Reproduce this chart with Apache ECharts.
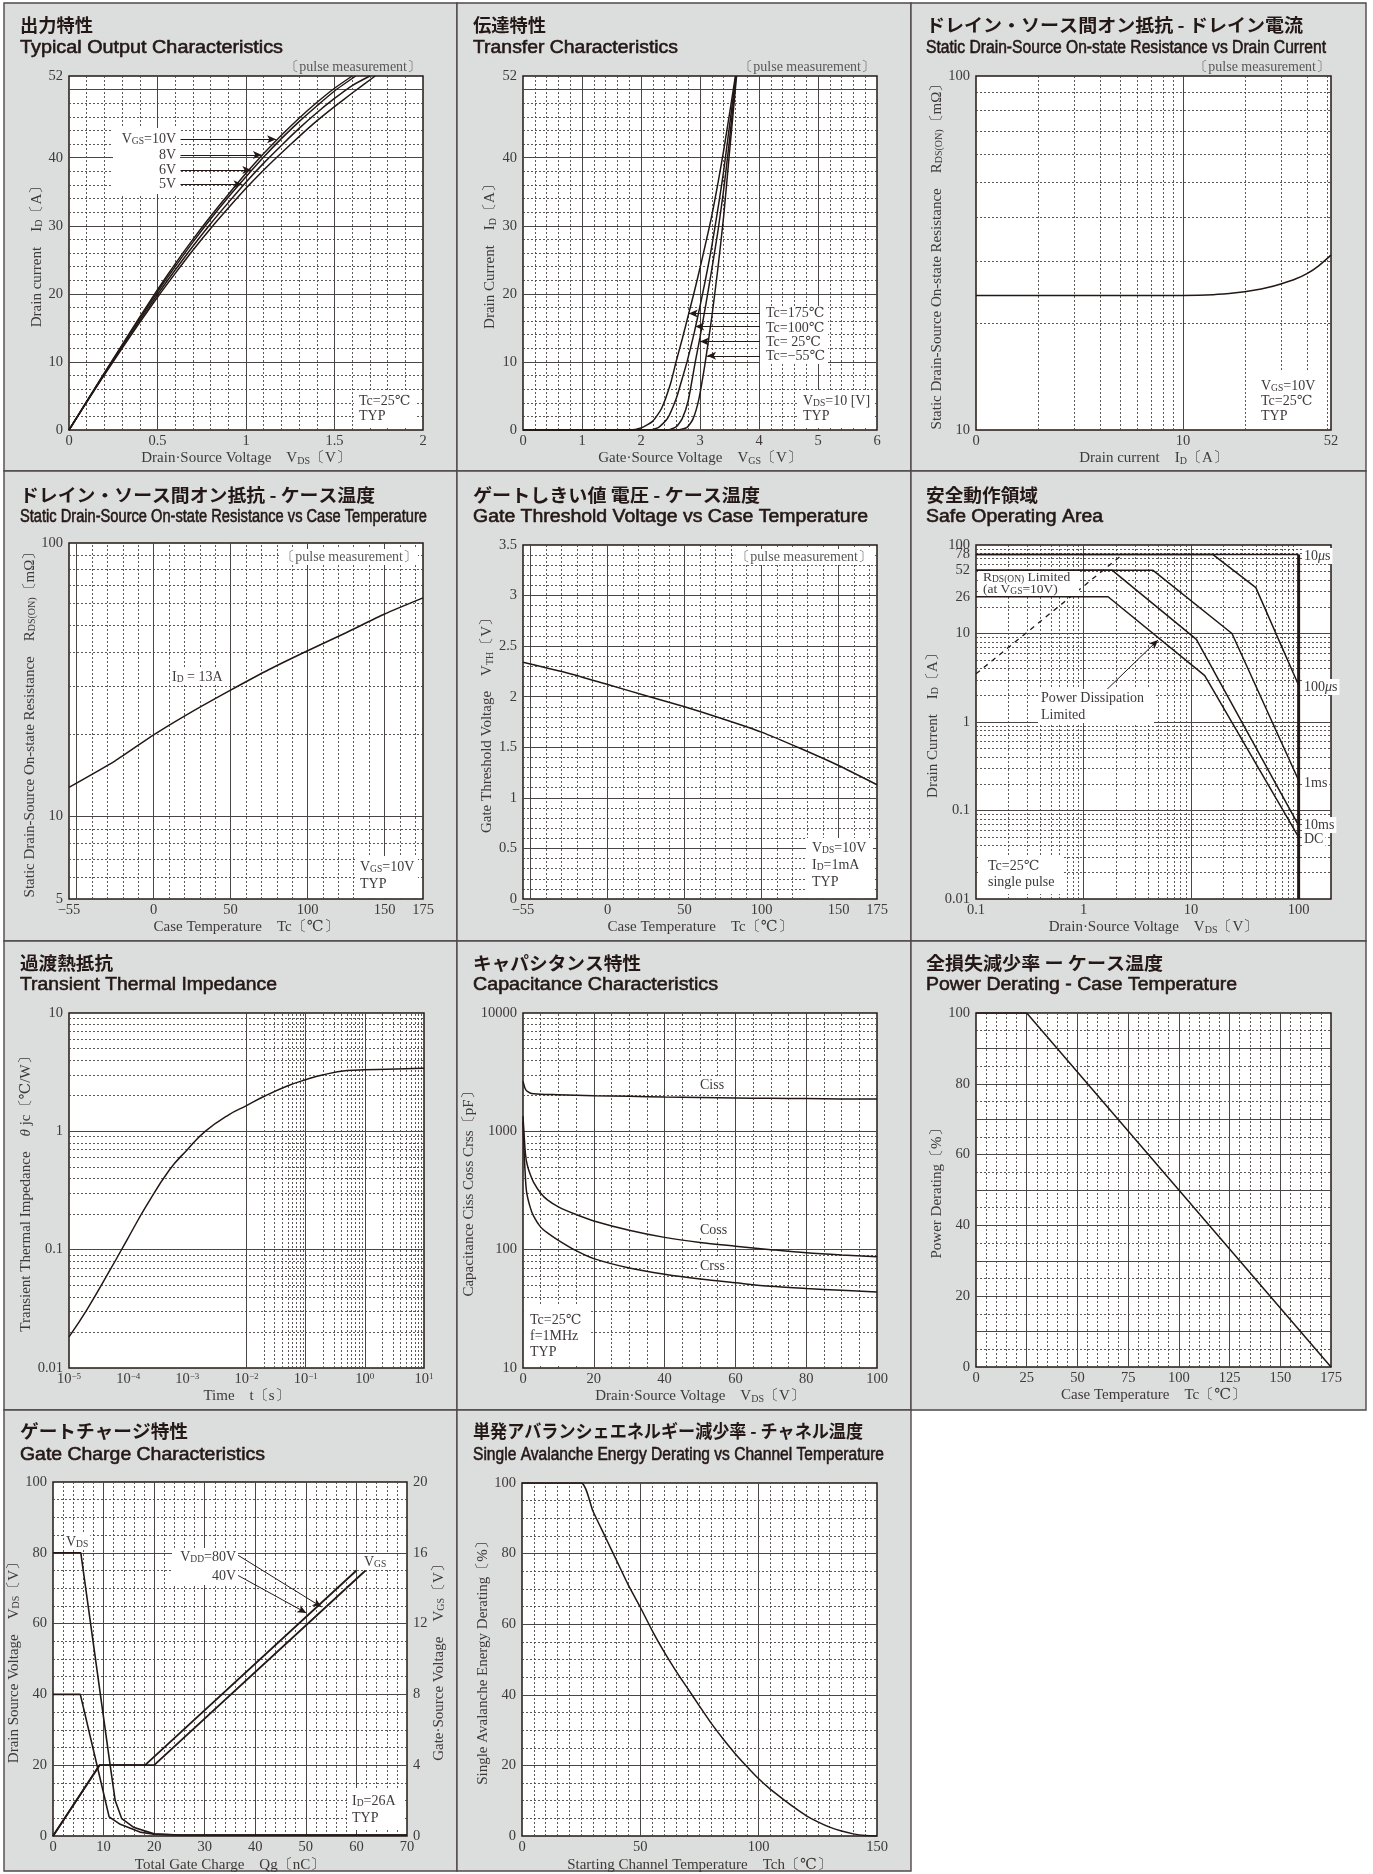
<!DOCTYPE html>
<html><head><meta charset="utf-8">
<script src="https://cdn.jsdelivr.net/npm/echarts@6/dist/echarts.min.js"></script>
<style>html,body{margin:0;padding:0;background:#fff}#c{width:1373px;height:1874px}</style>
</head><body><div id="c"></div>
<script>
// ================= DATA =================
// P1 Typical Output Characteristics  [VDS V, ID A]
const outVgs10V=[[0,0],[0.1,4.2],[0.2,8.4],[0.3,12.5],[0.4,16.6],[0.5,20.6],[0.6,24.4],[0.7,28.0],[0.8,31.4],[0.9,34.6],[1.0,37.7],[1.1,40.6],[1.2,43.3],[1.3,45.8],[1.4,48.1],[1.5,50.2],[1.6,52]];
const outVgs8V=[[0,0],[0.1,4.2],[0.2,8.3],[0.3,12.4],[0.4,16.4],[0.5,20.3],[0.6,24.0],[0.7,27.6],[0.8,31.0],[0.9,34.2],[1.0,37.2],[1.1,40.1],[1.2,42.8],[1.3,45.3],[1.4,47.6],[1.5,49.8],[1.62,52]];
const outVgs6V=[[0,0],[0.1,4.1],[0.2,8.2],[0.3,12.2],[0.4,16.1],[0.5,19.9],[0.6,23.5],[0.7,27.0],[0.8,30.3],[0.9,33.4],[1.0,36.4],[1.1,39.2],[1.2,41.8],[1.3,44.3],[1.4,46.6],[1.5,48.7],[1.6,50.6],[1.7,52]];
const outVgs5V=[[0,0],[0.1,4.1],[0.2,8.1],[0.3,12.0],[0.4,15.8],[0.5,19.5],[0.6,23.0],[0.7,26.4],[0.8,29.6],[0.9,32.6],[1.0,35.5],[1.1,38.2],[1.2,40.7],[1.3,43.1],[1.4,45.4],[1.5,47.5],[1.6,49.5],[1.73,52]];
const outArrowY=[42.7,40.4,38.2,36.1];
const outArrowTipX=[1.17,1.09,1.03,0.98];
const outArrowTailX=0.63;
// P2 Transfer Characteristics [VGS V, ID A]
const trTc175=[[0,0],[1.8,0],[2.0,0.3],[2.2,1.3],[2.35,3.2],[2.5,6.8],[2.6,10.2],[2.7,13.4],[2.8,16.8],[2.9,20.2],[3.0,23.8],[3.2,31.5],[3.4,41],[3.6,52]];
const trTc100=[[0,0],[2.15,0],[2.3,0.4],[2.45,1.7],[2.6,4.7],[2.7,7.6],[2.78,10],[2.9,14.2],[3.0,18.2],[3.1,22.4],[3.2,27],[3.4,38],[3.6,51.5],[3.61,52]];
const trTc25=[[0,0],[2.45,0],[2.6,0.5],[2.7,1.7],[2.8,4.3],[2.92,10],[3.0,13.6],[3.1,18.5],[3.2,23.6],[3.3,29],[3.4,35.2],[3.5,42.6],[3.61,52]];
const trTcM55=[[0,0],[2.62,0],[2.78,0.4],[2.88,1.6],[2.98,4.5],[3.09,10],[3.2,16.6],[3.3,23.5],[3.4,31.3],[3.5,40.8],[3.62,52]];
const trArrowY=[17.1,15.2,13.0,10.9];
const trArrowTipX=[2.81,2.92,3.0,3.12];
const trArrowTailX=4.06;
// P3 RDS(ON) vs ID [A, mOhm]
const rdsVsId=[[1,24],[3,24],[10,24],[14,24.1],[18,24.4],[22,24.8],[26,25.3],[30,25.9],[35,26.7],[40,27.7],[45,29],[52,31.2]];
// P4 RDS(ON) vs Tc [degC, mOhm]
const rdsVsTc=[[-55,12.8],[-25,16.0],[0,19.9],[25,24.2],[50,29.0],[75,34.5],[100,40.4],[125,47.0],[150,55.0],[175,63.0]];
// P5 Vth vs Tc [degC, V]
const vthVsTc=[[-55,2.34],[-25,2.23],[0,2.12],[25,2.01],[50,1.90],[75,1.78],[100,1.65],[125,1.49],[150,1.32],[175,1.13]];
// P6 Safe Operating Area [VDS V, ID A]
const soa10us=[[0.1,78],[100,78]];
const soa100us=[[0.1,78],[16,78],[40,33],[100,2.6]];
const soa1ms=[[0.1,52],[4.4,52],[24,10],[100,0.22]];
const soa10ms=[[0.1,52],[1.84,52],[11.2,8.6],[100,0.068]];
const soaDC=[[0.1,26],[1.69,26],[13.4,3.34],[100,0.05]];
const soaVdss=[[100,0.01],[100,78]];
const soaRdsLimit=[[0.1,3.5],[2.3,78]];
const soaCurrentTicks=[78,52,26];
const soaPdArrow=[[1.57,2.2],[4.93,8.45]];
// P7 Transient thermal impedance [s, degC/W]
const thermalZ=[[1e-5,0.0183],[2e-5,0.031],[5e-5,0.068],[1e-4,0.126],[2e-4,0.232],[5e-4,0.474],[1e-3,0.70],[2e-3,1.0],[5e-3,1.38],[1e-2,1.65],[2e-2,1.98],[5e-2,2.43],[1e-1,2.73],[2e-1,3.01],[5e-1,3.26],[1,3.31],[10,3.41]];
// P8 Capacitance [VDS V, pF]
const capCiss=[[0,2650],[0.3,2450],[0.6,2300],[1,2200],[2,2110],[3,2080],[5,2060],[10,2040],[20,2000],[30,1975],[40,1950],[50,1930],[60,1915],[70,1900],[80,1890],[90,1880],[100,1875]];
const capCoss=[[0,1340],[0.3,950],[0.7,640],[1.2,520],[2,435],[3,370],[5,300],[7,262],[10,230],[15,198],[20,175],[30,146],[40,127],[50,115],[60,107],[70,100],[80,94],[90,90],[100,87]];
const capCrss=[[0,1200],[0.3,700],[0.6,450],[1,310],[2,230],[3,192],[5,155],[7,138],[10,120],[15,98],[20,84],[30,70],[40,62],[50,56.5],[60,52.5],[70,49],[80,47],[90,45.3],[100,43.8]];
// P9 Power derating [degC, %]
const powerDerating=[[0,100],[25,100],[175,0]];
// P10 Gate charge [nC, VDS V / VGS V]
const qgVds80=[[0,80],[5.5,80],[11.3,20],[12.3,10],[13.6,4.9],[15.9,2.5],[20,0.6],[25,0.3],[70,0.3]];
const qgVds40=[[0,40],[5.4,40],[8.7,20],[11.1,5.4],[13.3,3.3],[17.2,1.1],[20,0.5],[25,0.3],[70,0.3]];
const qgVgs80=[[0,0],[9.2,4],[20,4],[61.8,15]];
const qgVgs40=[[0,0],[9.2,4],[18.2,4],[60,15]];
const qgArrow80=[[36.6,79.3],[53.1,64.7]];
const qgArrow40=[[36.6,73.6],[50.1,63.0]];
// P11 Single avalanche energy derating [degC, %]
const avalanche=[[0,100],[25,100],[30,92],[35,85],[40,78],[45,71],[50,64.8],[55,58.2],[60,52.2],[65,46.8],[70,41.8],[75,36.8],[80,31.9],[85,27.5],[90,23.4],[95,19.7],[100,16.2],[105,13.2],[110,10.6],[115,8.1],[120,5.8],[125,4],[130,2.5],[135,1.4],[140,0.6],[145,0.15],[150,0]];

// ================= STYLE / LAYOUT =================
const SERIF='"Liberation Serif","DejaVu Serif",serif';
const SANS='"Liberation Sans",Arial,sans-serif';
const CJK='"Noto Sans CJK JP","Noto Sans CJK SC",sans-serif';
const INK='#231815', TXT='#3e3a39', GL='#4a4645', BG='#dcdddd';
const SUB={fontFamily:SERIF,fontSize:9.5,color:TXT,fill:TXT,verticalAlign:'bottom'};
const SUP={fontFamily:SERIF,fontSize:9,color:TXT,fill:TXT,verticalAlign:'top'};
const IT={fontFamily:SERIF,fontSize:14,color:TXT,fill:TXT,fontStyle:'italic'};
const RICH={s:SUB,u:SUP,i:IT};

const P=[
 {l:69,t:76,w:354,h:354},{l:523,t:76,w:354,h:354},{l:976,t:76,w:355,h:354},
 {l:69,t:543,w:354,h:356},{l:523,t:545,w:354,h:354},{l:976,t:545,w:355,h:354},
 {l:69,t:1013,w:355,h:355},{l:523,t:1013,w:354,h:355},{l:976,t:1013,w:355,h:354},
 {l:53,t:1482,w:354,h:354},{l:522,t:1483,w:355,h:353}
];

const seq=(a,b,s)=>{const r=[];for(let k=0;a+k*s<=b+1e-9;k++)r.push(+(a+k*s).toFixed(6));return r;};
const without=(arr,ex)=>arr.filter(v=>!ex.some(e=>Math.abs(e-v)<1e-6));
const logMinor=(d0,d1)=>{const r=[];for(let e=d0;e<=d1;e++)for(let k=2;k<=9;k++)r.push(+(k*Math.pow(10,e)).toPrecision(6));return r;};
const fmtNum=v=>{const r=+(+v).toPrecision(6);return r<0?'−'+(-r):String(r);};

const nameStyle={fontFamily:SERIF,fontSize:15,color:TXT,rich:{s:{fontFamily:SERIF,fontSize:10,color:TXT,verticalAlign:'bottom'},i:{fontFamily:SERIF,fontSize:15,color:TXT,fontStyle:'italic'}}};
const labelBase={color:TXT,fontFamily:SERIF,fontSize:14.5,showMinLabel:true,showMaxLabel:true};

function axisCommon(gi,name,gap,isY){
  return {gridIndex:gi,axisLine:{show:false},axisTick:{show:false},splitLine:{show:false},minorSplitLine:{show:false},
    name:name,nameLocation:'middle',nameGap:gap,nameRotate:isY?90:0,nameTextStyle:nameStyle};
}
function lin(gi,min,max,step,labels,name,gap,isY,extra){
  return Object.assign(axisCommon(gi,name,gap,isY),{type:'value',min,max,interval:step,
    axisLabel:Object.assign({},labelBase,{margin:isY?6:4,formatter:v=>labels.some(l=>Math.abs(l-v)<1e-6)?fmtNum(v):''})},extra||{});
}
function logA(gi,min,max,fmt,name,gap,isY,extra){
  return Object.assign(axisCommon(gi,name,gap,isY),{type:'log',logBase:10,min,max,
    axisLabel:Object.assign({},labelBase,{margin:isY?6:4,formatter:fmt,rich:{u:SUP}})},extra||{});
}
const decFmt=v=>fmtNum(v);

function gridLines(gi,yi,g){
  const maj={color:GL,width:1,type:'solid'}, mn={color:GL,width:0.9,type:[2,2]};
  const d=[];
  (g.xMin||[]).forEach(v=>d.push({xAxis:v,lineStyle:mn}));
  (g.yMin||[]).forEach(v=>d.push({yAxis:v,lineStyle:mn}));
  (g.xMaj||[]).forEach(v=>d.push({xAxis:v,lineStyle:maj}));
  (g.yMaj||[]).forEach(v=>d.push({yAxis:v,lineStyle:maj}));
  return {type:'line',xAxisIndex:gi,yAxisIndex:yi,data:[],z:1,silent:true,
    markLine:{silent:true,symbol:['none','none'],label:{show:false},animation:false,data:d}};
}
function curve(gi,yi,data,extra){
  return Object.assign({type:'line',xAxisIndex:gi,yAxisIndex:yi,data:data,symbol:'none',showSymbol:false,silent:true,z:5,
    lineStyle:{color:INK,width:1.5},smooth:false},extra||{});
}
function arrows(gi,yi,pairs,w){
  return {type:'line',xAxisIndex:gi,yAxisIndex:yi,data:[],z:6,silent:true,
    markLine:{silent:true,animation:false,label:{show:false},lineStyle:{color:INK,width:w||1,type:'solid'},
      data:pairs.map(p=>[{coord:p[0],symbol:'none'},{coord:p[1],symbol:'arrow',symbolSize:[6,9]}])}};
}

const X=[],Y=[],S=[];
const sm={smooth:0.2};

// P1
X.push(lin(0,0,2,0.5,[0,0.5,1,1.5,2],'Drain·Source Voltage　V{s|DS}〔V〕',21,false));
Y.push(lin(0,0,52,2,[0,10,20,30,40,50,52],'Drain current　I{s|D}〔A〕',24,true));
S.push(gridLines(0,0,{xMaj:[0.5,1,1.5],xMin:without(seq(0.1,1.9,0.1),[0.5,1,1.5]),yMaj:seq(10,50,10),yMin:without(seq(2,50,2),seq(10,50,10))}));
[outVgs10V,outVgs8V,outVgs6V,outVgs5V].forEach(d=>S.push(curve(0,0,d,sm)));
S.push(arrows(0,0,outArrowY.map((y,i)=>[[outArrowTailX,y],[outArrowTipX[i],y]])));
// P2
X.push(lin(1,0,6,1,[0,1,2,3,4,5,6],'Gate·Source Voltage　V{s|GS}〔V〕',21,false));
Y.push(lin(1,0,52,2,[0,10,20,30,40,50,52],'Drain Current　I{s|D}〔A〕',25,true));
S.push(gridLines(1,1,{xMaj:seq(1,5,1),xMin:without(seq(0.2,5.8,0.2),seq(1,5,1)),yMaj:seq(10,50,10),yMin:without(seq(2,50,2),seq(10,50,10))}));
[trTc175,trTc100,trTc25,trTcM55].forEach(d=>S.push(curve(1,1,d,sm)));
S.push(arrows(1,1,trArrowY.map((y,i)=>[[trArrowTailX,y],[trArrowTipX[i],y]])));
// P3
X.push(logA(2,1,52,v=>Math.abs(v-1)<1e-6?'0':fmtNum(Math.round(v)),'Drain current　I{s|D}〔A〕',21,false));
Y.push(logA(2,10,100,decFmt,'Static Drain-Source On-state Resistance　R{s|DS(ON)}〔mΩ〕',22,true));
S.push(gridLines(2,2,{xMaj:[10],xMin:logMinor(0,0).concat([20,30,40,50]),yMin:logMinor(1,1)}));
S.push(curve(2,2,rdsVsId,sm));
// P4
X.push(lin(3,-55,175,5,[-55,0,50,100,150,175],'Case Temperature　Tc〔℃〕',21,false));
Y.push(logA(3,5,100,decFmt,'Static Drain-Source On-state Resistance　R{s|DS(ON)}〔mΩ〕',24,true));
S.push(gridLines(3,3,{xMaj:[-50,0,50,100,150],xMin:without(seq(-40,170,10),[0,50,100,150]),yMaj:[10],yMin:[6,7,8,9].concat(logMinor(1,1))}));
S.push(curve(3,3,rdsVsTc,sm));
// P5
X.push(lin(4,-55,175,5,[-55,0,50,100,150,175],'Case Temperature　Tc〔℃〕',21,false));
Y.push(lin(4,0,3.5,0.5,seq(0,3.5,0.5),'Gate Threshold Voltage　V{s|TH}〔V〕',25,true));
S.push(gridLines(4,4,{xMaj:[-50,0,50,100,150],xMin:without(seq(-40,170,10),[0,50,100,150]),yMaj:seq(0.5,3,0.5),yMin:without(seq(0.1,3.4,0.1),seq(0.5,3,0.5))}));
S.push(curve(4,4,vthVsTc,sm));
// P6
X.push(logA(5,0.1,200,v=>v>150?'':fmtNum(v),'Drain·Source Voltage　V{s|DS}〔V〕',21,false));
Y.push(logA(5,0.01,100,decFmt,'Drain Current　I{s|D}〔A〕',24,true));
S.push(gridLines(5,5,{xMaj:[1,10],xMin:logMinor(-1,1),yMaj:[0.1,1,10],yMin:logMinor(-2,1)}));
S.push({type:'line',xAxisIndex:5,yAxisIndex:5,data:[],z:2,silent:true,markLine:{silent:true,symbol:['none','none'],animation:false,
  lineStyle:{color:'rgba(0,0,0,0)',width:0.1,type:'solid'},
  label:{show:true,position:'start',distance:6,color:TXT,fontFamily:SERIF,fontSize:14.5},
  data:soaCurrentTicks.map(v=>({yAxis:v,label:{show:true,position:'start',distance:6,formatter:String(v),color:TXT,fontFamily:SERIF,fontSize:14.5}}))}});
[soa10us,soa100us,soa1ms,soa10ms,soaDC].forEach(d=>S.push(curve(5,5,d)));
S.push(curve(5,5,soaVdss,{lineStyle:{color:INK,width:3}}));
S.push(curve(5,5,soaRdsLimit,{lineStyle:{color:INK,width:1.3,type:[5,5]}}));
S.push(arrows(5,5,[soaPdArrow]));
// P7
X.push(logA(6,1e-5,10,v=>{const e=Math.round(Math.log10(v));return '10{u|'+(e<0?'−'+(-e):e)+'}';},'Time　t〔s〕',21,false));
Y.push(logA(6,0.01,10,decFmt,'Transient Thermal Impedance　{i|θ} jc〔℃/W〕',24,true));
S.push(gridLines(6,6,{xMaj:[1e-4,1e-3,1e-2,0.1,1],xMin:logMinor(-5,0),yMaj:[0.1,1],yMin:logMinor(-2,0)}));
S.push(curve(6,6,thermalZ,{smooth:0.45}));
// P8
X.push(lin(7,0,100,20,seq(0,100,20),'Drain·Source Voltage　V{s|DS}〔V〕',21,false));
Y.push(logA(7,10,10000,decFmt,'Capacitance Ciss Coss Crss〔pF〕',35,true));
S.push(gridLines(7,7,{xMaj:[20,40,60,80],xMin:without(seq(5,95,5),[20,40,60,80]),yMaj:[100,1000],yMin:logMinor(1,3)}));
[capCiss,capCoss,capCrss].forEach(d=>S.push(curve(7,7,d,{smooth:0.3})));
// P9
X.push(lin(8,0,175,25,seq(0,175,25),'Case Temperature　Tc〔℃〕',21,false));
Y.push(lin(8,0,100,20,seq(0,100,20),'Power Derating〔%〕',23,true));
S.push(gridLines(8,8,{xMaj:seq(25,150,25),xMin:without(seq(5,170,5),seq(25,150,25)),yMaj:seq(10,90,10),yMin:seq(5,95,10)}));
S.push(curve(8,8,powerDerating));
// P10
X.push(lin(9,0,70,10,seq(0,70,10),'Total Gate Charge　Qg〔nC〕',22,false));
Y.push(lin(9,0,100,20,seq(0,100,20),'Drain Source Voltage　V{s|DS}〔V〕',24,true));
// P11
X.push(lin(10,0,150,50,[0,50,100,150],'Starting Channel Temperature　Tch〔℃〕',22,false));
Y.push(lin(10,0,100,20,seq(0,100,20),'Single Avalanche Energy Derating〔%〕',24,true));
// P10 right axis (index 11)
Y.push(lin(9,0,20,4,seq(0,20,4),'Gate·Source Voltage　V{s|GS}〔V〕',22,true,{position:'right'}));
S.push(gridLines(9,9,{xMaj:seq(10,60,10),xMin:without(seq(2,68,2),seq(10,60,10)),yMaj:seq(20,80,20),yMin:without(seq(5,95,5),seq(20,80,20))}));
S.push(curve(9,9,qgVds80,{lineStyle:{color:INK,width:1.6}}));
S.push(curve(9,9,qgVds40,{lineStyle:{color:INK,width:1.6}}));
S.push(curve(9,11,qgVgs80,{lineStyle:{color:INK,width:1.8}}));
S.push(curve(9,11,qgVgs40,{lineStyle:{color:INK,width:1.8}}));
S.push(arrows(9,9,[qgArrow80,qgArrow40]));
S.push(gridLines(10,10,{xMaj:[50,100],xMin:without(seq(5,145,5),[50,100]),yMaj:seq(20,80,20),yMin:without(seq(5,95,5),seq(20,80,20))}));
S.push(curve(10,10,avalanche,sm));

// ================= GRAPHIC (frames, titles, notes) =================
const G=[];
const colX0=[4,457,911], colX1=[457,911,1366];
const rowY0=[3,471,941,1410], rowY1=[471,941,1410,1871];
for(let r=0;r<4;r++)for(let c=0;c<3;c++){
  if(r===3&&c===2)continue;
  G.push({type:'rect',z:-10,shape:{x:colX0[c],y:rowY0[r],width:colX1[c]-colX0[c],height:rowY1[r]-rowY0[r]},style:{fill:BG,stroke:'#4d4948',lineWidth:1.4}});
}
const cv=document.createElement('canvas').getContext('2d');
function fitText(x,y,text,font,target,color,thick){
  cv.font=font;const w=cv.measureText(text).width;const s=target/w;
  const st={text:text,font:font,fill:color||INK,align:'left',verticalAlign:'middle'};
  if(thick){st.stroke=color||INK;st.lineWidth=thick;}
  return {type:'text',x:x,y:y,scaleX:s,z:100,style:st};
}
const titleCX=[20,473,926], jpY=[25,495,963,1431], enY=[48,517,985,1455];
const titles=[
 ['出力特性','Typical Output Characteristics',73,263],
 ['伝達特性','Transfer Characteristics',73,205],
 ['ドレイン・ソース間オン抵抗 - ドレイン電流','Static Drain-Source On-state Resistance vs Drain Current',377,400],
 ['ドレイン・ソース間オン抵抗 - ケース温度','Static Drain-Source On-state Resistance vs Case Temperature',355,407],
 ['ゲートしきい値 電圧 - ケース温度','Gate Threshold Voltage vs Case Temperature',287,395],
 ['安全動作領域','Safe Operating Area',112,177],
 ['過渡熱抵抗','Transient Thermal Impedance',93,257],
 ['キャパシタンス特性','Capacitance Characteristics',168,245],
 ['全損失減少率 ー ケース温度','Power Derating - Case Temperature',237,311],
 ['ゲートチャージ特性','Gate Charge Characteristics',168,245],
 ['単発アバランシェエネルギー減少率 - チャネル温度','Single Avalanche Energy Derating vs Channel Temperature',390,411]
];
titles.forEach((t,i)=>{
  const r=Math.floor(i/3),c=i%3;
  G.push(fitText(titleCX[c],jpY[r],t[0],'bold 18px '+CJK,t[2]));
  G.push(fitText(titleCX[c],enY[r],t[1],'17.5px '+SANS,t[3],INK,0.55));
});
function T(x,y,text,o){return {type:'text',x:x,y:y,z:101,style:Object.assign({text:text,fill:TXT,fontFamily:SERIF,fontSize:14,align:'left',verticalAlign:'middle',rich:RICH},o||{})};}
function B(x,y,w,h){return {type:'rect',z:100,shape:{x:x,y:y,width:w,height:h},style:{fill:'#fff'}};}
const PM='〔pulse measurement〕';
// P1
G.push(T(421,67,PM,{align:'right',fill:'#595757'}));
G.push(B(113,128,67,66));
G.push(T(176,139,'V{s|GS}=10V',{align:'right'}),T(176,155,'8V',{align:'right'}),T(176,170,'6V',{align:'right'}),T(176,184,'5V',{align:'right'}));
G.push(B(354,392,62,34),T(359,401,'Tc=25℃'),T(359,416,'TYP'));
// P2
G.push(T(875,67,PM,{align:'right',fill:'#595757'}));
G.push(B(760,306,68,58));
G.push(T(766,313,'Tc=175℃'),T(766,328,'Tc=100℃'),T(766,342,'Tc= 25℃'),T(766,356,'Tc=−55℃'));
G.push(B(798,390,77,38),T(803,401,'V{s|DS}=10 [V]'),T(803,416,'TYP'));
// P3
G.push(T(1330,67,PM,{align:'right',fill:'#595757'}));
G.push(B(1256,371,66,58),T(1261,386,'V{s|GS}=10V'),T(1261,401,'Tc=25℃'),T(1261,416,'TYP'));
// P4
G.push(T(418,557,PM,{align:'right',fill:'#595757',backgroundColor:'#fff',padding:[1,1]}));
G.push(T(170,677,'I{s|D} = 13A',{backgroundColor:'#fff',padding:[1,2]}));
G.push(B(355,856,63,42),T(360,867,'V{s|GS}=10V'),T(360,884,'TYP'));
// P5
G.push(T(873,557,PM,{align:'right',fill:'#595757',backgroundColor:'#fff',padding:[1,1]}));
G.push(B(806,838,67,60),T(812,848,'V{s|DS}=10V'),T(812,865,'I{s|D}=1mA'),T(812,882,'TYP'));
// P6
G.push(B(980,571,99,25),T(983,577,'R{s|DS(ON)} Limited',{fontSize:13.5}),T(983,589,'(at V{s|GS}=10V)',{fontSize:13.5}));
G.push(B(1038,689,116,34),T(1041,698,'Power Dissipation'),T(1041,715,'Limited'));
G.push(B(980,856,82,38),T(988,866,'Tc=25℃'),T(988,882,'single pulse'));
const soaLab=[['10{i|μ}s',556],['100{i|μ}s',687],['1ms',783],['10ms',825],['DC',839]];
soaLab.forEach(a=>G.push(T(1302,a[1],a[0],{backgroundColor:'#fff',padding:[1,2]})));
// P8
G.push(T(698,1085,'Ciss',{backgroundColor:'#fff',padding:[1,2]}),T(698,1230,'Coss',{backgroundColor:'#fff',padding:[1,2]}),T(698,1266,'Crss',{backgroundColor:'#fff',padding:[1,2]}));
G.push(B(524,1306,67,60),T(530,1320,'Tc=25℃'),T(530,1336,'f=1MHz'),T(530,1352,'TYP'));
// P10
G.push(T(64,1542,'V{s|DS}',{backgroundColor:'#fff',padding:[1,2]}));
G.push(T(362,1562,'V{s|GS}',{backgroundColor:'#fff',padding:[1,2]}));
G.push(B(172,1548,66,37),T(236,1557,'V{s|DD}=80V',{align:'right'}),T(236,1576,'40V',{align:'right'}));
G.push(B(347,1788,56,42),T(352,1801,'I{s|D}=26A'),T(352,1818,'TYP'));

const option={
  animation:false,backgroundColor:'#ffffff',textStyle:{fontFamily:SERIF},
  grid:P.map(p=>({left:p.l,top:p.t,width:p.w,height:p.h,show:true,backgroundColor:'#ffffff',borderColor:INK,borderWidth:1.5,containLabel:false,outerBoundsMode:'none'})),
  xAxis:X,yAxis:Y,series:S,graphic:G
};
const chart=echarts.init(document.getElementById('c'),null,{renderer:'canvas',width:1373,height:1874});
chart.setOption(option);
</script></body></html>
